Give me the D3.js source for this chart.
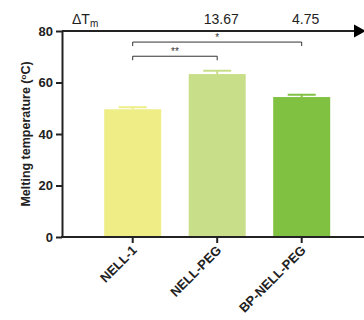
<!DOCTYPE html>
<html>
<head>
<meta charset="utf-8">
<script src="https://cdn.jsdelivr.net/npm/d3@7"></script>
<style>
    body { margin: 0; background: #fff; }
    svg { display: block; font-family: "Liberation Sans", Arial, sans-serif; }
</style>
</head>
<body>
<div id="canvas"></div>
<script>
"use strict"

// ---------------- DATA ----------------
let groups = ["NELL-1", "NELL-PEG", "BP-NELL-PEG"]
let means = [49.6, 63.27, 54.35]
let errors = [0.8, 1.3, 0.9]
let barColors = ["#eeed86", "#c8de89", "#80c142"]
let deltaLabels = ["", "13.67", "4.75"]
let yTicks = [0, 20, 40, 60, 80]

// significance brackets: from group, to group, level (value), stars
let brackets = [
    { from: "NELL-1", to: "NELL-PEG", level: 70.2, label: "**" },
    { from: "NELL-1", to: "BP-NELL-PEG", level: 75.7, label: "*" }
]

let svgWidth = 364
let svgHeight = 320
let axisColor = "#222"

let svg = d3.select("#canvas")
    .append("svg")
    .attr("width", svgWidth)
    .attr("height", svgHeight)

let xScale = d3.scalePoint()
    .domain(groups)
    .range([132.7, 301.7])

let barWidth = 57

let yScale = d3.scaleLinear()
    .domain([0, 80])
    .range([237, 31])

let axisX = 62

// ---------------- BARS ----------------
let bars = svg.append("g")

bars.selectAll("rect.bar")
    .data(groups)
    .enter()
    .append("rect")
    .attr("class", "bar")
    .attr("x", function(d) { return xScale(d) - barWidth / 2 })
    .attr("y", function(d, i) { return yScale(means[i]) })
    .attr("width", barWidth)
    .attr("height", function(d, i) { return yScale(0) - yScale(means[i]) })
    .attr("fill", function(d, i) { return barColors[i] })

// error bars (upper only, same colour as bar)
bars.selectAll("line.err")
    .data(groups)
    .enter()
    .append("line")
    .attr("class", "err")
    .attr("x1", function(d) { return xScale(d) })
    .attr("x2", function(d) { return xScale(d) })
    .attr("y1", function(d, i) { return yScale(means[i]) })
    .attr("y2", function(d, i) { return yScale(means[i] + errors[i]) })
    .attr("stroke", function(d, i) { return barColors[i] })
    .attr("stroke-width", 2)

bars.selectAll("line.cap")
    .data(groups)
    .enter()
    .append("line")
    .attr("class", "cap")
    .attr("x1", function(d) { return xScale(d) - 14 })
    .attr("x2", function(d) { return xScale(d) + 14 })
    .attr("y1", function(d, i) { return yScale(means[i] + errors[i]) })
    .attr("y2", function(d, i) { return yScale(means[i] + errors[i]) })
    .attr("stroke", function(d, i) { return barColors[i] })
    .attr("stroke-width", 2)

// ---------------- AXES ----------------
let yAxis = d3.axisLeft(yScale)
    .tickValues(yTicks)
    .tickSize(6)
    .tickSizeOuter(0)

let yG = svg.append("g")
    .attr("transform", `translate(${axisX},0)`)
    .call(yAxis)

yG.select(".domain").attr("stroke", axisColor).attr("stroke-width", 2)
yG.selectAll(".tick line").attr("stroke", axisColor).attr("stroke-width", 2)
yG.selectAll(".tick text")
    .attr("fill", axisColor)
    .attr("font-size", 13)
    .attr("font-weight", "bold")
    .attr("x", -9)

// x axis baseline runs to the right edge
svg.append("line")
    .attr("x1", axisX - 1)
    .attr("x2", svgWidth)
    .attr("y1", yScale(0))
    .attr("y2", yScale(0))
    .attr("stroke", axisColor)
    .attr("stroke-width", 2)

svg.selectAll("line.xtick")
    .data(groups)
    .enter()
    .append("line")
    .attr("class", "xtick")
    .attr("x1", function(d) { return xScale(d) })
    .attr("x2", function(d) { return xScale(d) })
    .attr("y1", yScale(0))
    .attr("y2", yScale(0) + 6)
    .attr("stroke", axisColor)
    .attr("stroke-width", 2)

svg.selectAll("text.xlabel")
    .data(groups)
    .enter()
    .append("text")
    .attr("class", "xlabel")
    .attr("transform", function(d) { return `translate(${xScale(d) + 5},${yScale(0) + 14}) rotate(-45)` })
    .attr("text-anchor", "end")
    .attr("font-size", 13)
    .attr("font-weight", "bold")
    .attr("fill", axisColor)
    .text(function(d) { return d })

// y axis title
let yTitle = svg.append("text")
    .attr("transform", `translate(30,${(yScale(0) + yScale(80)) / 2}) rotate(-90)`)
    .attr("text-anchor", "middle")
    .attr("font-size", 12.5)
    .attr("font-weight", "bold")
    .attr("fill", axisColor)

yTitle.append("tspan").text("Melting temperature (")
yTitle.append("tspan").attr("font-size", 8).attr("dy", -4).text("o")
yTitle.append("tspan").attr("dy", 4).text("C)")

// ---------------- DELTA Tm ARROW ----------------
let arrowY = yScale(80)

svg.append("line")
    .attr("x1", axisX)
    .attr("x2", 356)
    .attr("y1", arrowY)
    .attr("y2", arrowY)
    .attr("stroke", axisColor)
    .attr("stroke-width", 2)

svg.append("path")
    .attr("d", `M354,${arrowY - 6.5} L366,${arrowY} L354,${arrowY + 6.5} Z`)
    .attr("fill", "#000")

let dt = svg.append("text")
    .attr("x", 72)
    .attr("y", 24)
    .attr("font-size", 14)
    .attr("fill", axisColor)
dt.append("tspan").text("\u0394T")
dt.append("tspan").attr("font-size", 10).attr("dy", 3).text("m")

svg.selectAll("text.delta")
    .data(groups)
    .enter()
    .append("text")
    .attr("class", "delta")
    .attr("x", function(d) { return xScale(d) + 4 })
    .attr("y", 24)
    .attr("text-anchor", "middle")
    .attr("font-size", 14)
    .attr("fill", axisColor)
    .text(function(d, i) { return deltaLabels[i] })

// ---------------- SIGNIFICANCE ----------------
let sig = svg.append("g")

brackets.forEach(function(b) {
    let x1 = xScale(b.from)
    let x2 = xScale(b.to)
    let y = yScale(b.level)
    sig.append("path")
        .attr("d", `M${x1},${y + 4} V${y} H${x2} V${y + 4}`)
        .attr("fill", "none")
        .attr("stroke", "#333")
        .attr("stroke-width", 1)
    sig.append("text")
        .attr("x", (x1 + x2) / 2)
        .attr("y", y - 1)
        .attr("text-anchor", "middle")
        .attr("font-size", 10)
        .attr("fill", "#333")
        .text(b.label)
})
</script>
</body>
</html>
